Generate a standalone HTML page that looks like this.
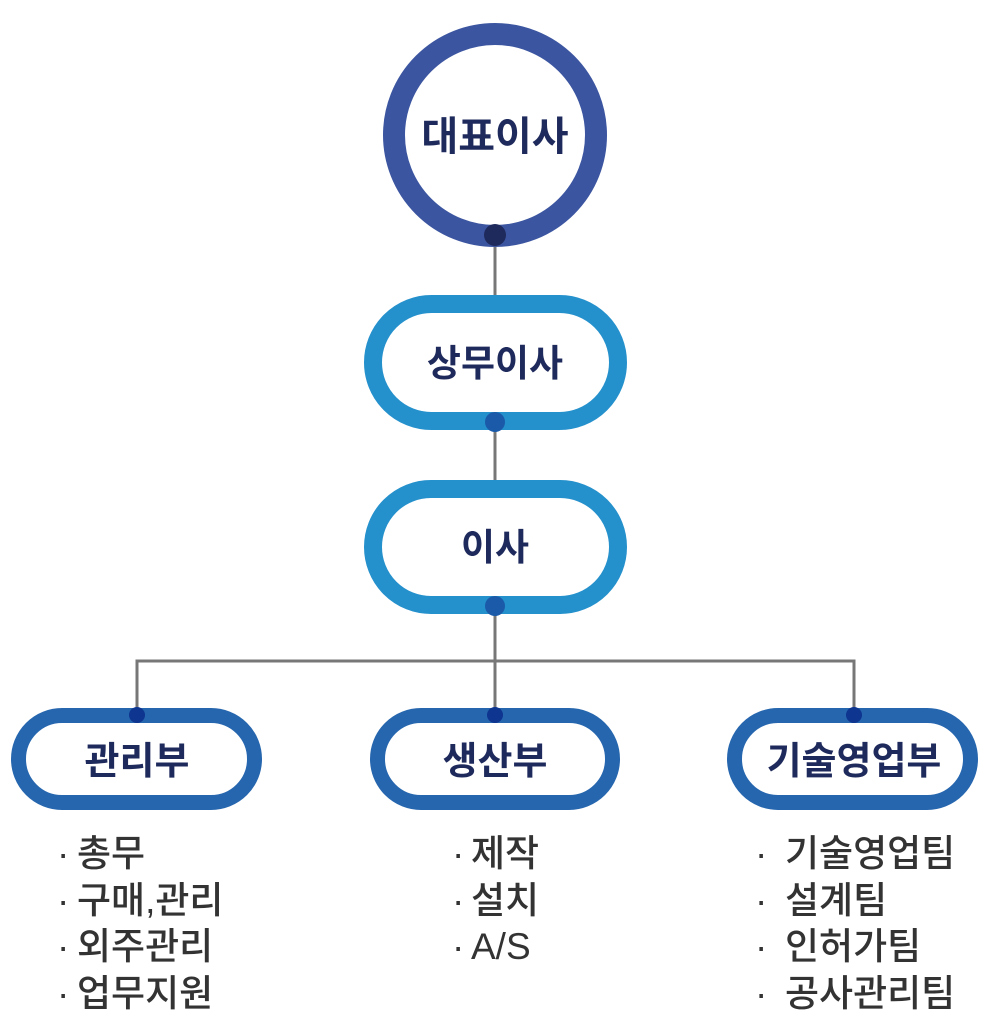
<!DOCTYPE html>
<html><head><meta charset="utf-8"><style>
html,body{margin:0;padding:0;background:#fff;}
svg{display:block;}
.t{font-family:"Liberation Sans","Noto Sans CJK KR",sans-serif;font-weight:bold;fill:#1f2a5c;}
.l{font-family:"Liberation Sans","Noto Sans CJK KR",sans-serif;fill:#333;font-size:37px;font-weight:500;}
</style></head><body>
<svg width="990" height="1024" viewBox="0 0 990 1024" xmlns="http://www.w3.org/2000/svg">
<g stroke="#777" stroke-width="3" fill="none">
<line x1="495" y1="235" x2="495" y2="300"/>
<line x1="495" y1="422" x2="495" y2="485"/>
<line x1="495" y1="606" x2="495" y2="715"/>
<polyline points="137,715 137,661 854,661 854,715"/>
</g>
<circle cx="495" cy="135" r="101" fill="#fff" stroke="#3b55a0" stroke-width="22"/>
<circle cx="495" cy="235" r="11" fill="#1f2a5c"/>
<rect x="373" y="304" width="245" height="117" rx="58.5" fill="#fff" stroke="#2490cc" stroke-width="18"/>
<circle cx="495" cy="422" r="10" fill="#1a5aa8"/>
<rect x="373" y="489" width="245" height="116" rx="58" fill="#fff" stroke="#2490cc" stroke-width="18"/>
<circle cx="495" cy="606" r="10" fill="#1a5aa8"/>
<g fill="#fff" stroke="#2666ae" stroke-width="15">
<rect x="18.5" y="715.5" width="236" height="87" rx="43.5"/>
<rect x="377.5" y="715.5" width="235" height="87" rx="43.5"/>
<rect x="734.5" y="715.5" width="236" height="87" rx="43.5"/>
</g>
<g fill="#0e3590">
<circle cx="137" cy="715" r="8"/><circle cx="495" cy="715" r="8"/><circle cx="854" cy="715" r="8"/>
</g>
<text class="t" x="495" y="150" font-size="40" text-anchor="middle">대표이사</text>
<text class="t" x="495" y="376" font-size="37" text-anchor="middle">상무이사</text>
<text class="t" x="495" y="560" font-size="37" text-anchor="middle">이사</text>
<text class="t" x="137" y="774" font-size="38" text-anchor="middle">관리부</text>
<text class="t" x="495" y="774" font-size="38" text-anchor="middle">생산부</text>
<text class="t" x="854" y="774" font-size="38" text-anchor="middle">기술영업부</text>
<g class="l">
<text x="57" y="866">·</text><text x="77" y="866">총무</text>
<text x="57" y="913">·</text><text x="77" y="913">구매,관리</text>
<text x="57" y="959">·</text><text x="77" y="959">외주관리</text>
<text x="57" y="1006">·</text><text x="77" y="1006">업무지원</text>
<text x="452" y="866">·</text><text x="471" y="866">제작</text>
<text x="452" y="913">·</text><text x="471" y="913">설치</text>
<text x="452" y="959">·</text><text x="471" y="959">A/S</text>
<text x="755" y="866">·</text><text x="785" y="866">기술영업팀</text>
<text x="755" y="913">·</text><text x="785" y="913">설계팀</text>
<text x="755" y="959">·</text><text x="785" y="959">인허가팀</text>
<text x="755" y="1006">·</text><text x="785" y="1006">공사관리팀</text>
</g>
</svg>
</body></html>
